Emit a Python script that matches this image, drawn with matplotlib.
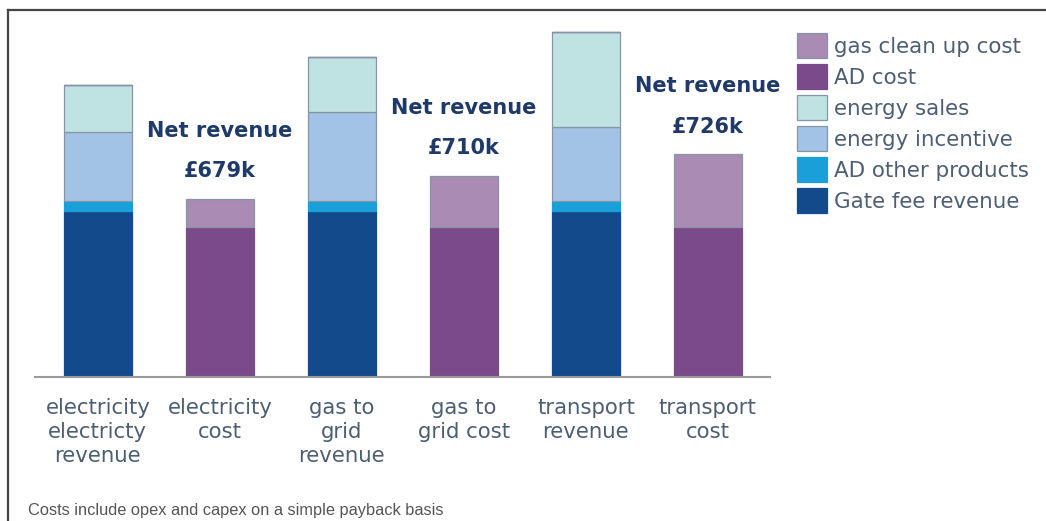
import numpy as np
import matplotlib
matplotlib.use("Agg")
from matplotlib import pyplot as plt
from matplotlib.lines import Line2D

# values in £k
categories = ["electricity\nelectricty\nrevenue", "electricity\ncost",
              "gas to\ngrid\nrevenue", "gas to\ngrid cost",
              "transport\nrevenue", "transport\ncost"]
gate_fee = [990, 0, 990, 0, 990, 0]
ad_other = [55, 0, 55, 0, 55, 0]
energy_incentive = [410, 0, 530, 0, 440, 0]
energy_sales = [284, 0, 330, 0, 566, 0]
ad_cost = [0, 890, 0, 890, 0, 890]
clean_up = [0, 170, 0, 305, 0, 435]
net_labels = ["£679k", "£710k", "£726k"]

series = [
    ("Gate fee revenue", gate_fee, "#124a8c"),
    ("AD other products", ad_other, "#1a9fd8"),
    ("energy incentive", energy_incentive, "#a2c3e6"),
    ("energy sales", energy_sales, "#bfe2e3"),
    ("AD cost", ad_cost, "#7a4a8b"),
    ("gas clean up cost", clean_up, "#a98bb3"),
]

fig = plt.figure(figsize=(10.46, 5.21), dpi=100)
ax = fig.add_axes([35 / 1046, 144 / 521, 735 / 1046, 357 / 521])

x = np.arange(len(categories))
bottom = np.zeros(len(categories))
handles = {}
for name, vals, col in series:
    vals = np.array(vals, dtype=float)
    edge = col if name in ("Gate fee revenue", "AD cost", "AD other products") else "#8796a6"
    b = ax.bar(x, vals, 0.56, bottom=bottom, color=col, edgecolor=edge, linewidth=0.9)
    handles[name] = b
    bottom += vals

# net revenue text above each cost bar
for i, lab in zip([1, 3, 5], net_labels):
    top = bottom[i]
    ax.annotate(lab, (x[i], top), xytext=(0, 20), textcoords="offset points",
                ha="center", va="center", fontsize=15, fontweight="bold", color="#1f3a68")
    ax.annotate("Net revenue", (x[i], top), xytext=(0, 49), textcoords="offset points",
                ha="center", va="center", fontsize=15, fontweight="bold", color="#1f3a68")

ax.set_xlim(-0.516, 5.51)
ax.set_ylim(0, 357 * 5.95)
for s in ["top", "left", "right"]:
    ax.spines[s].set_visible(False)
ax.spines["bottom"].set_color("#9a9a9a")
ax.spines["bottom"].set_linewidth(1.5)
ax.set_yticks([])
ax.set_xticks(x)
ax.set_xticklabels(categories, fontsize=15.3, color="#4d5e74", linespacing=1.25)
ax.tick_params(axis="x", length=0, pad=15)

order = ["gas clean up cost", "AD cost", "energy sales", "energy incentive",
         "AD other products", "Gate fee revenue"]
leg = fig.legend([handles[n] for n in order], order, loc="upper left",
                 bbox_to_anchor=(797 / 1046, 1 - 33 / 521), frameon=False,
                 fontsize=15.4, handlelength=1.42, handleheight=1.41,
                 labelspacing=0.29, handletextpad=0.3, borderpad=0, borderaxespad=0)
for t in leg.get_texts():
    t.set_color("#4d5e74")

fig.text(28 / 1046, 11 / 521, "Costs include opex and capex on a simple payback basis",
         fontsize=11.8, family="Liberation Sans", color="#555555", va="center")

# outer frame lines
fig.add_artist(Line2D([8 / 1046, 1], [1 - 10 / 521, 1 - 10 / 521], color="#444444", lw=1.6))
fig.add_artist(Line2D([8 / 1046, 8 / 1046], [0, 1 - 10 / 521], color="#444444", lw=1.6))

fig.savefig("out.png", dpi=100)
